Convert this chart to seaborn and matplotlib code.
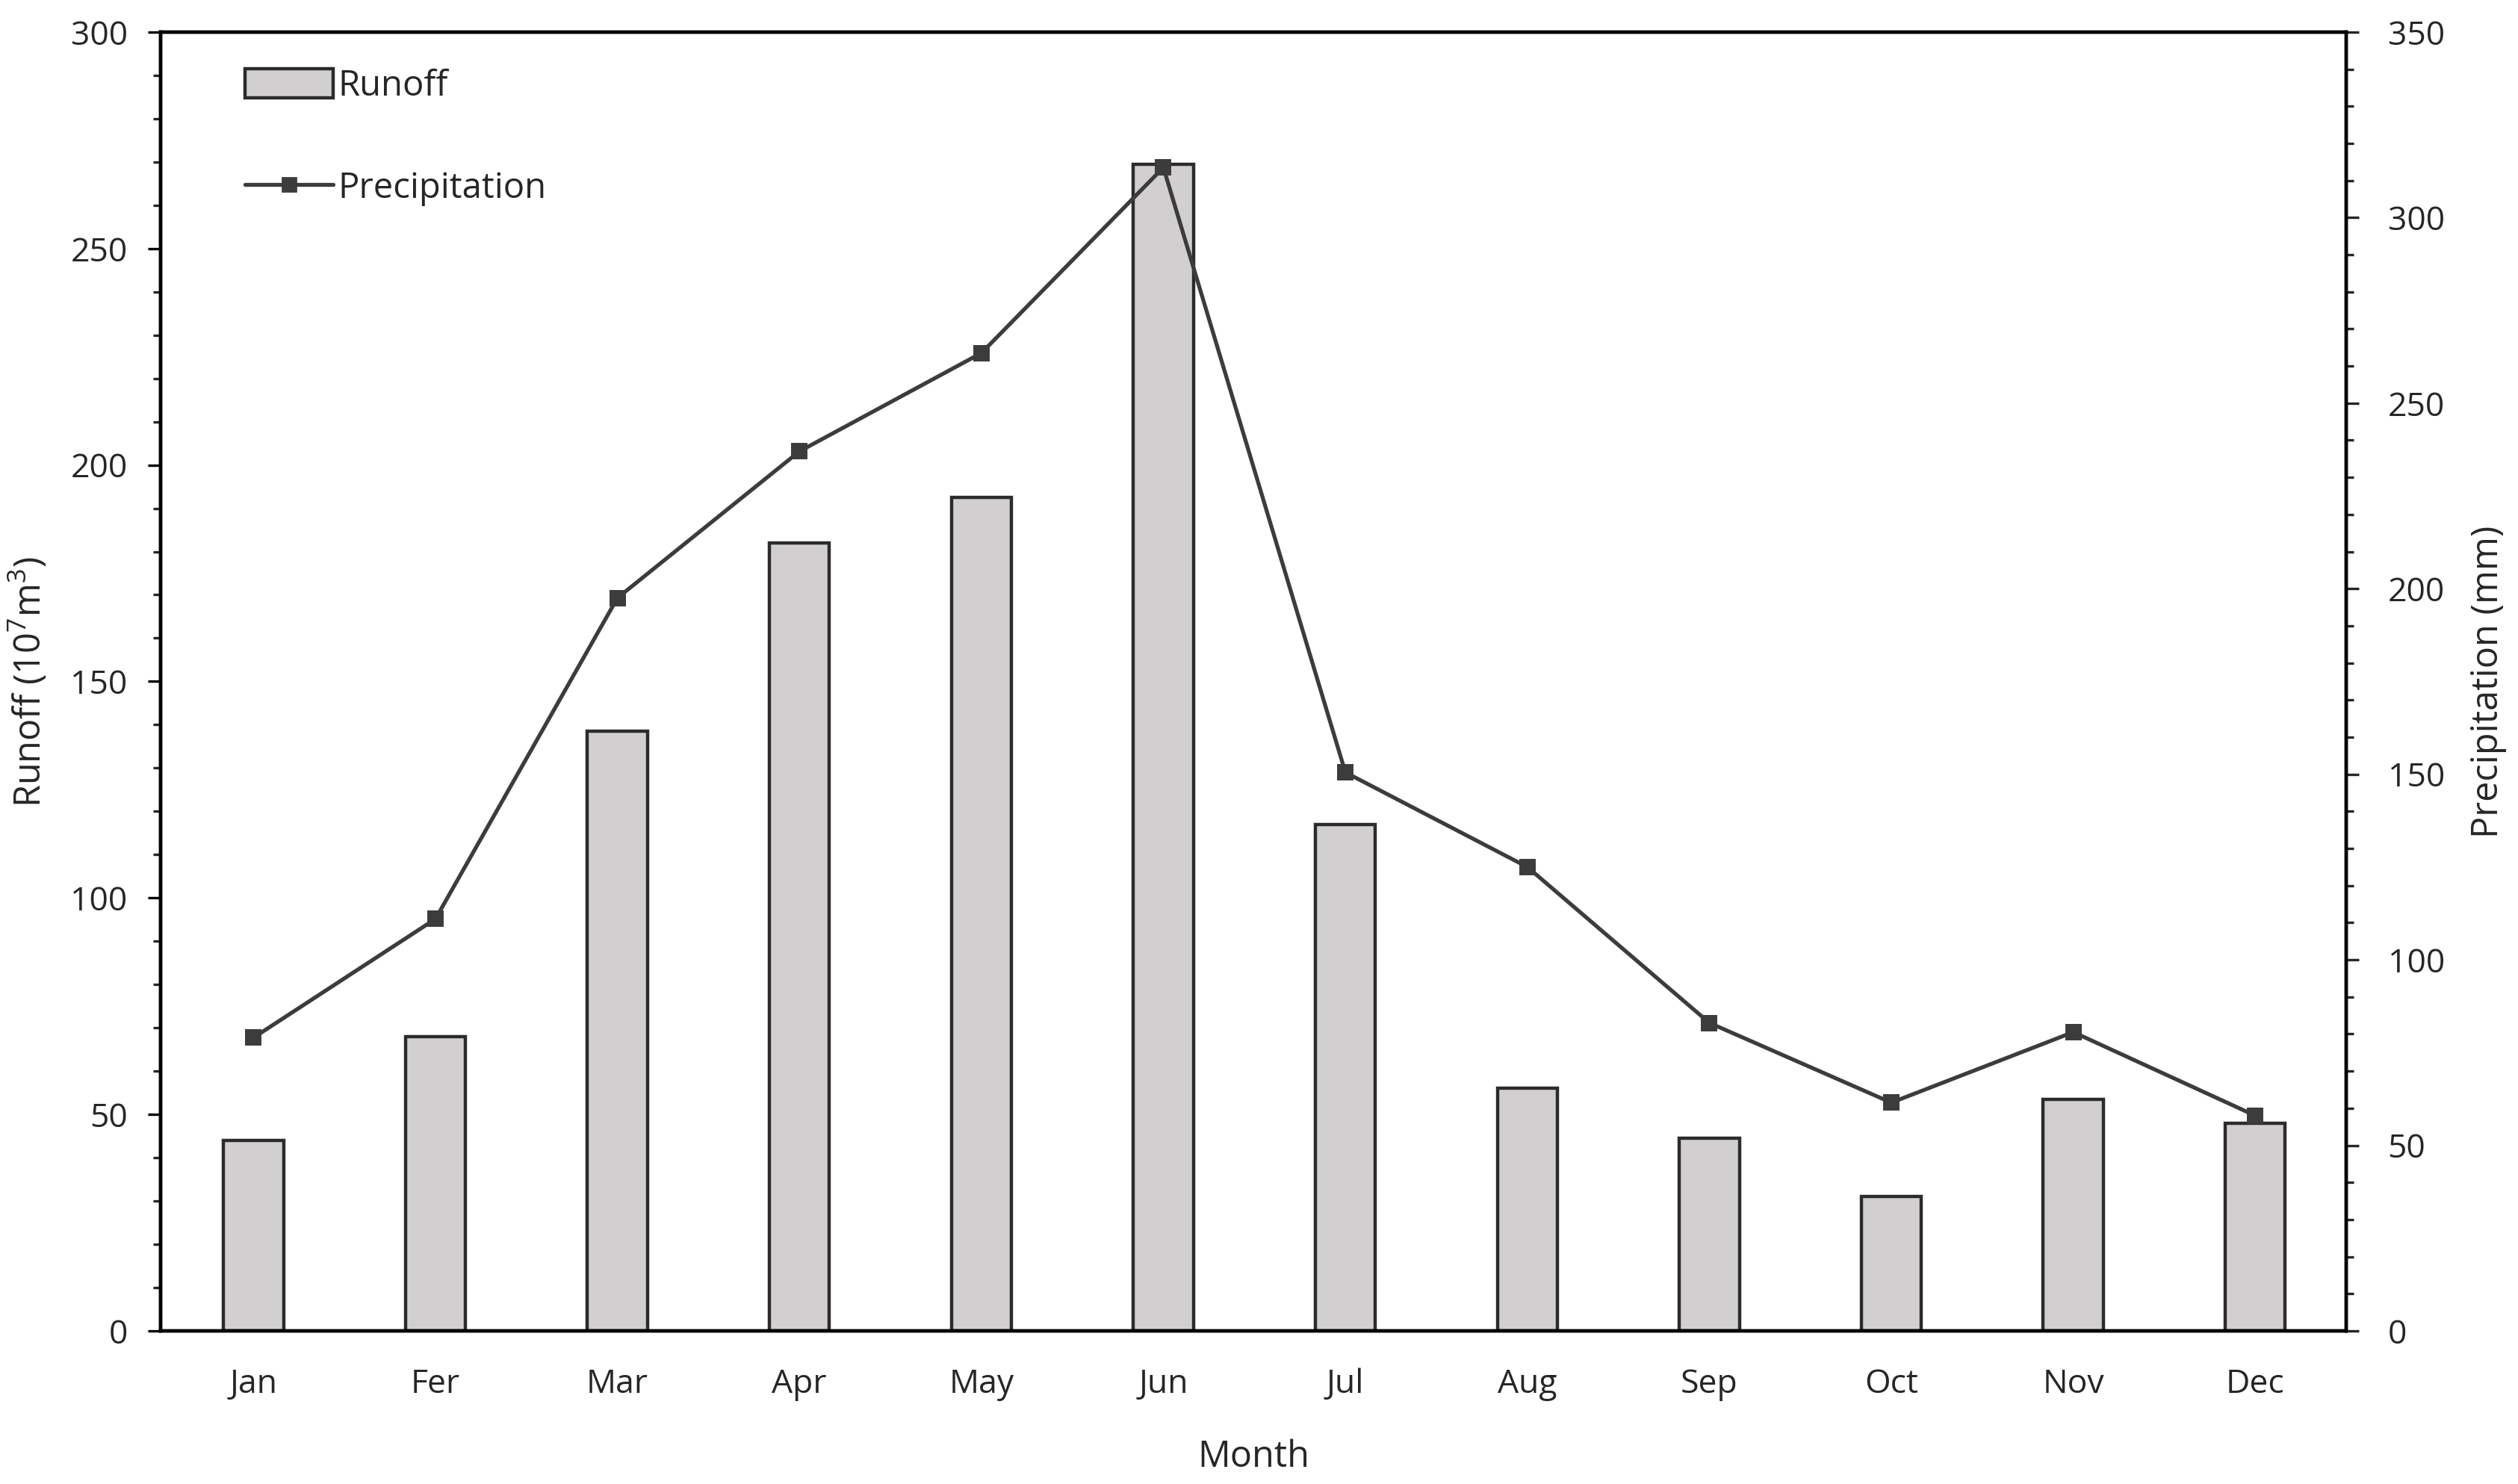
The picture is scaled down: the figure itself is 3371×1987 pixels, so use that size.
import numpy as np
import pandas as pd
import matplotlib
matplotlib.use("Agg")
import matplotlib.pyplot as plt
from matplotlib.patches import Patch
from matplotlib.lines import Line2D
from matplotlib.ticker import MultipleLocator
import seaborn as sns

# --------------------------------------------------------------
# DATA
# --------------------------------------------------------------
months = ["Jan", "Fer", "Mar", "Apr", "May", "Jun",
          "Jul", "Aug", "Sep", "Oct", "Nov", "Dec"]
runoff = [44, 68, 138.5, 182, 192.5, 269.5, 117, 56, 44.5, 31, 53.5, 48]
precip = [79, 111, 197.5, 237, 263.5, 313.5, 150.5, 125, 83, 61.5, 80.5, 58]

df = pd.DataFrame({"Month": months, "Runoff": runoff, "Precipitation": precip})

# --------------------------------------------------------------
# STYLE
# --------------------------------------------------------------
sns.set_style("white")
plt.rcParams["font.family"] = ["Open Sans", "DejaVu Sans"]
plt.rcParams["mathtext.fontset"] = "custom"
plt.rcParams["mathtext.rm"] = "Open Sans"
plt.rcParams["mathtext.it"] = "Open Sans"

fs = 16
bar_color = "#d2cfd0"
edge_color = "#2b2b2b"
line_color = "#3c3c3c"

fig = plt.figure(figsize=(16.855, 9.935), dpi=200)
ax = fig.add_axes([0.0638, 0.1032, 0.868, 0.8752])

sns.barplot(data=df, x="Month", y="Runoff", ax=ax, color=bar_color,
            saturation=1, width=0.33, edgecolor=edge_color, linewidth=1.6)

ax2 = ax.twinx()
sns.pointplot(data=df, x="Month", y="Precipitation", ax=ax2, color=line_color,
              markers="s", linestyles="-", linewidth=1.9, markersize=6.5)

# --------------------------------------------------------------
# AXES
# --------------------------------------------------------------
for a in (ax, ax2):
    a.set_xlim(-0.51, 11.5)
    for s in a.spines.values():
        s.set_linewidth(1.6)
        s.set_color("black")

ax.set_ylim(0, 300)
ax.yaxis.set_major_locator(MultipleLocator(50))
ax.yaxis.set_minor_locator(MultipleLocator(10))
ax2.set_ylim(0, 350)
ax2.yaxis.set_major_locator(MultipleLocator(50))
ax2.yaxis.set_minor_locator(MultipleLocator(10))

ax.tick_params(axis="y", which="major", direction="out", length=6, width=1.2,
               labelsize=fs, colors="black", pad=10, left=True)
ax.tick_params(axis="y", which="minor", direction="out", length=3.5, width=1.2, left=True)
ax.tick_params(axis="x", length=0, labelsize=fs, pad=18)
ax2.tick_params(axis="y", which="major", direction="out", length=6, width=1.2,
                labelsize=fs, pad=14, right=True)
ax2.tick_params(axis="y", which="minor", direction="out", length=3.5, width=1.2, right=True)

for lbl in ax.get_yticklabels() + ax2.get_yticklabels() + ax.get_xticklabels():
    lbl.set_color("#262626")

ax.set_xlabel("Month", fontsize=fs + 1.5, labelpad=18)
ax.set_ylabel("Runoff (10$^7$m$^3$)", fontsize=fs + 1.5, labelpad=10)
ax2.set_ylabel("Precipitation (mm)", fontsize=fs + 1.5, labelpad=12, rotation=90)

# --------------------------------------------------------------
# LEGEND
# --------------------------------------------------------------
handles = [
    Patch(facecolor=bar_color, edgecolor=edge_color, linewidth=1.6, label="Runoff"),
    Line2D([], [], color=line_color, marker="s", markersize=6.5, linewidth=1.9,
           label="Precipitation"),
]
ax2.legend(handles=handles, loc="upper left", bbox_to_anchor=(0.032, 0.983),
           frameon=False, fontsize=fs + 1, handlelength=2.5, handleheight=0.9,
           handletextpad=0.15, labelspacing=1.9, borderaxespad=0)

fig.savefig("out.png", dpi=200)
